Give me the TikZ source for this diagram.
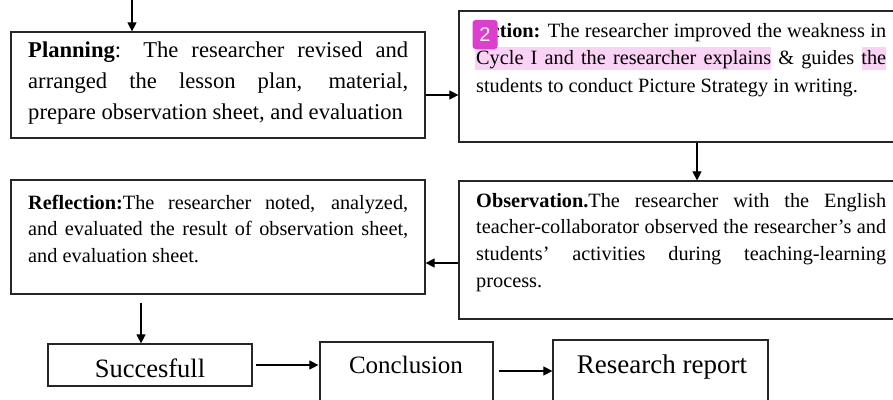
\documentclass[tikz,border=0pt]{standalone}
\usepackage{fontspec}
\setmainfont{Liberation Serif}
\newfontfamily\badgefont{Liberation Sans}
\usetikzlibrary{arrows.meta}
\definecolor{hilite}{RGB}{249,210,246}
\definecolor{badgecol}{RGB}{222,62,206}
\tikzset{box/.style={draw=black!85, line width=1.2pt, rectangle, inner sep=0pt}}
\tikzset{desc/.style={inner sep=0pt, anchor=base west, align=justify}}
\tikzset{big/.style={inner sep=0pt, anchor=base}}
\tikzset{arr/.style={line width=1.1pt, -{Triangle[length=9pt,width=9pt]}}}
\tolerance=10000
\hyphenpenalty=10000

\begin{document}
\begin{tikzpicture}[x=1pt, y=-1pt]
\useasboundingbox (0,0) rectangle (893,399);

\node [box, minimum width=414pt, minimum height=106pt] (planning) at (218,85) {};
\node [box, minimum width=441pt, minimum height=131pt] (action) at (679.5,76.5) {};
\node [box, minimum width=441pt, minimum height=138pt] (observation) at (679.5,250) {};
\node [box, minimum width=414pt, minimum height=114pt] (reflection) at (218,237) {};
\node [box, minimum width=204pt, minimum height=42pt] (succes) at (150,365) {};
\node [box, minimum width=173pt, minimum height=62pt] (conclusion) at (406.5,373) {};
\node [box, minimum width=215pt, minimum height=64pt] (report) at (660.5,372) {};

\fill [hilite] (475,47) rectangle (771,70);
\fill [hilite] (862,47) rectangle (886,70);

\node [desc, text width=380pt, font=\fontsize{22.6}{31}\selectfont] (planningtext) at (28,57)
  {\textbf{Planning}: The researcher revised and\linebreak arranged the lesson plan, material,\linebreak prepare observation sheet, and evaluation};
\node [desc, text width=410pt, font=\fontsize{20.3}{27.5}\selectfont] (actiontext) at (476,37)
  {\textbf{Action:} The researcher improved the weakness in\linebreak Cycle I and the researcher explains \& guides the\linebreak students to conduct Picture Strategy in writing.};
\node [desc, text width=380pt, font=\fontsize{20.3}{26.5}\selectfont] (reflectiontext) at (28,209)
  {\textbf{Reflection:}The researcher noted, analyzed,\linebreak and evaluated the result of observation sheet,\linebreak and evaluation sheet.};
\node [desc, text width=410pt, font=\fontsize{20.3}{26.7}\selectfont] (observationtext) at (476,207)
  {\textbf{Observation.}The researcher with the English\linebreak teacher-collaborator observed the researcher’s and\linebreak students’ activities during teaching-learning\linebreak process.};

\node [big, font=\fontsize{26.5}{30}\selectfont] (successtext) at (150,377) {Succesfull};
\node [big, font=\fontsize{25}{30}\selectfont] (conclusiontext) at (406,373) {Conclusion};
\node [big, font=\fontsize{27}{30}\selectfont] (reporttext) at (662,373) {Research report};

\node [fill=badgecol, rounded corners=3pt, minimum width=25pt, minimum height=29pt, inner sep=0pt,
  text=white, font=\badgefont\fontsize{20}{20}\selectfont] (badge) at (485,34.5) {2};

\coordinate (start) at (132,0);
\coordinate (down) at (141,303);

\draw [arr] (start) to (start |- planning.north);
\draw [arr] ([yshift=-10pt]planning.east) to ([yshift=-10pt]planning.east -| action.west);
\draw [arr] ([xshift=17.5pt]action.south) to ([xshift=17.5pt]action.south |- observation.north);
\draw [arr] ([yshift=-13pt]observation.west) to ([yshift=-13pt]observation.west -| reflection.east);
\draw [arr] (down) to (down |- succes.north);
\draw [arr] ([xshift=3pt]succes.east) to ([xshift=-1pt]succes.east -| conclusion.west);
\draw [arr] ([xshift=5pt,yshift=2pt]conclusion.east) to ([yshift=2pt]conclusion.east -| report.west);

\end{tikzpicture}
\end{document}
